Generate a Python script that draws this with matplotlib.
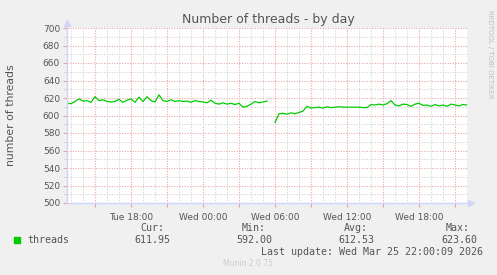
import numpy as np
import matplotlib.pyplot as plt

# hours since Tue 00:00, one sample every 20 minutes from Tue 12:40
start_hour = 12 + 40 / 60
step_hour = 1 / 3
threads = [
    614, 613.5, 616, 619, 616.5, 617, 615, 621.5, 617, 618,
    616, 615.5, 616, 618.5, 615, 617.5, 619, 615, 621, 616,
    621.5, 617, 615.5, 623.6, 617, 616, 618, 616, 617, 616,
    616.5, 615, 617, 616, 615.5, 614.5, 617.5, 614, 613, 614.5,
    613, 614, 612.5, 614, 609.5, 610.5, 613, 616, 614.5, 615.5,
    616.5, np.nan, 592, 602, 602.5, 601.5, 603, 602, 603.5, 605,
    610.5, 608.5, 609, 609.5, 608.5, 610, 609, 609.5, 610, 609.5,
    609.5, 609.5, 609.5, 609.5, 609, 609, 612.5, 612, 613, 612,
    613.5, 617, 612, 611, 613, 612.5, 610.5, 613, 614, 611.5,
    612, 610.5, 612.5, 611, 612, 610.5, 613, 612, 611, 612.5,
    611.95,
]
hours = start_hour + step_hour * np.arange(len(threads))

tick_hours = [18, 24, 30, 36, 42]
tick_labels = ["Tue 18:00", "Wed 00:00", "Wed 06:00", "Wed 12:00", "Wed 18:00"]
yticks = list(range(500, 701, 20))

stat_names = ["Cur:", "Min:", "Avg:", "Max:"]
stat_values = ["611.95", "592.00", "612.53", "623.60"]
stat_right = [170, 272, 374, 477]
head_right = [164, 266, 368, 470]

W, H = 497, 275
back = "#F0F0F0"
font_c = "#555555"
axis_c = "#CFD6F8"
major_c = "#EBA0A0"
minor_c = "#D0D0D0"

fig = plt.figure(figsize=(W / 100, H / 100), dpi=100, facecolor=back)
x0, x1, ytop, ybot = 67, 467, 28, 203
ax = fig.add_axes([x0 / W, 1 - ybot / H, (x1 - x0) / W, (ybot - ytop) / H])
ax.set_facecolor("white")

xmin, xmax = start_hour, 46.0
ax.set_xlim(xmin, xmax)
ax.set_ylim(500, 700)

# rrdtool style dotted grid: red every 3 h / 20, grey every 1 h / 10
dot = (0, (1, 1.5))
for h in range(13, 47):
    ax.axvline(h, color=major_c if h % 3 == 0 else minor_c, lw=0.75, ls=dot, zorder=1)
for v in range(510, 701, 10):
    ax.axhline(v, color=major_c if v % 20 == 0 else minor_c, lw=0.75, ls=dot, zorder=1)

ax.plot(hours, threads, color="#00CC00", lw=0.9, zorder=3)

for s in ax.spines.values():
    s.set_visible(False)
ax.plot([xmin, xmin], [500, 706], color=axis_c, lw=1, clip_on=False, zorder=4)
ax.plot([xmin, 46.35], [500, 500], color=axis_c, lw=1, clip_on=False, zorder=4)
ax.plot([xmin], [706], marker="^", ms=4, color=axis_c, clip_on=False, zorder=4)
ax.plot([46.35], [500], marker=">", ms=4, color=axis_c, clip_on=False, zorder=4)

ax.set_yticks(yticks)
ax.set_yticks(range(510, 700, 20), minor=True)
ax.set_xticks(tick_hours)
ax.set_xticklabels(tick_labels)
ax.set_xticks(range(15, 46, 3), minor=True)
ax.tick_params(axis="both", which="both", colors=major_c, labelcolor=font_c,
               labelsize=6.5, length=3, width=0.8, pad=2)
ax.tick_params(axis="y", which="minor", colors=minor_c, length=2)
ax.tick_params(axis="x", which="major", pad=4)

fig.text(0.5 * (x0 + x1) / W + 0.002, 1 - 19 / H, "Number of threads - by day",
         ha="center", va="center", fontsize=9, color=font_c)
fig.text(11 / W, 1 - 115 / H, "number of threads", rotation=90,
         ha="center", va="center", fontsize=7.8, color=font_c)
fig.text(490 / W, 1 - 54 / H, "RRDTOOL / TOBI OETIKER", rotation=270,
         ha="center", va="center", fontsize=5, color="#C0C0C0")

mono = "DejaVu Sans Mono"
for name, val, hr, vr in zip(stat_names, stat_values, head_right, stat_right):
    fig.text(hr / W, 1 - 228 / H, name, ha="right", va="center",
             family=mono, fontsize=7.2, color=font_c)
    fig.text(vr / W, 1 - 240 / H, val, ha="right", va="center",
             family=mono, fontsize=7.2, color=font_c)
fig.patches.append(plt.Rectangle((14 / W, 1 - 243 / H), 6 / W, 6 / H,
                                 transform=fig.transFigure, color="#00CC00"))
fig.text(27 / W, 1 - 240 / H, "threads", ha="left", va="center",
         family=mono, fontsize=7.2, color=font_c)
fig.text(483 / W, 1 - 252 / H, "Last update: Wed Mar 25 22:00:09 2026",
         ha="right", va="center", family=mono, fontsize=7.2, color=font_c)
fig.text(248 / W, 1 - 264 / H, "Munin 2.0.75", ha="center", va="center",
         fontsize=5.5, color="#CCCCCC")

fig.savefig("out.png", dpi=100, facecolor=back)
